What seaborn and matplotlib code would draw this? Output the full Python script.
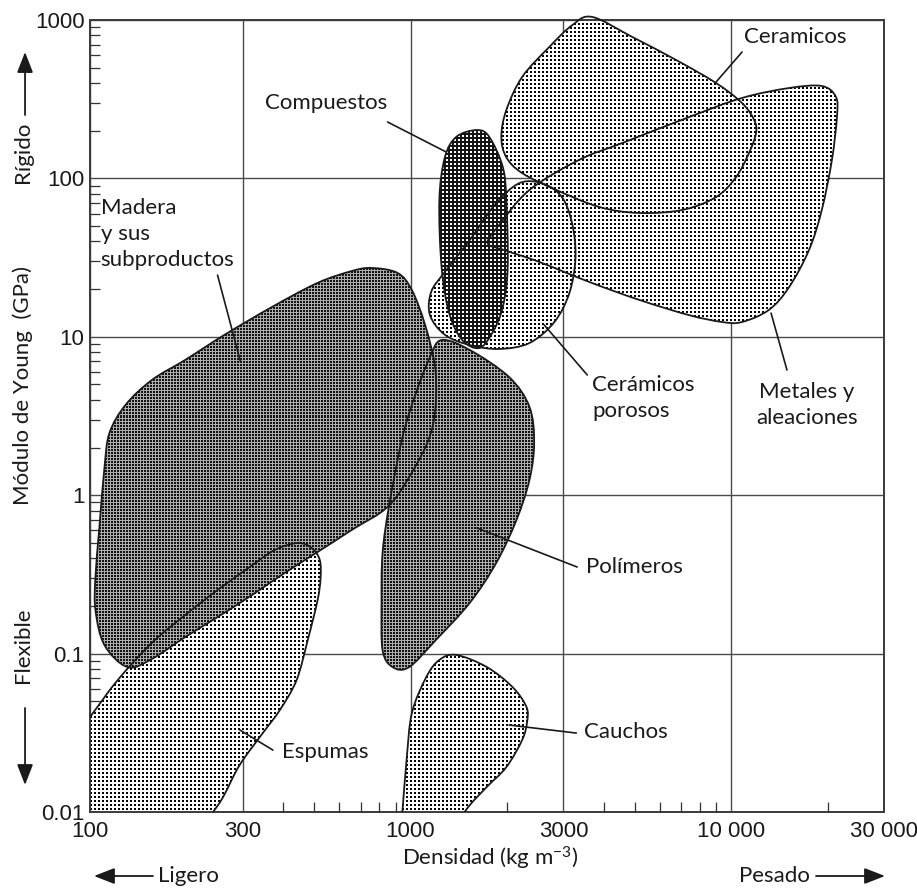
import numpy as np
import pandas as pd
import matplotlib
matplotlib.use("Agg")
import matplotlib.pyplot as plt
from matplotlib.path import Path
from matplotlib.patches import PathPatch
from matplotlib.image import AxesImage
from matplotlib.ticker import LogLocator, NullFormatter
import seaborn as sns

sns.set_style("white")
plt.rcParams['font.family'] = ['Lato', 'DejaVu Sans']
plt.rcParams['mathtext.fontset'] = 'custom'
plt.rcParams['mathtext.rm'] = 'Lato'
plt.rcParams['mathtext.default'] = 'regular'

# envelopes of each material family
# density in kg/m3, Young's modulus in GPa, going round each outline
ceramics_rho = [3690, 4920, 6740, 8980, 10820, 11800, 11970, 11380, 10370, 8980, 7040,
                5170, 3880, 2850, 2230, 1990, 1920, 1990, 2230, 2710, 3200]
ceramics_E = [1045, 781, 559, 400, 299, 234, 194, 145, 102, 76.3, 63.2,
              60.5, 66.0, 84.5, 108, 136, 183, 270, 437, 676, 930]

metals_rho = [1740, 1890, 2350, 3360, 4570, 7400, 10820, 15170, 19190, 21240, 21390, 20640,
              19190, 17500, 15170, 13130, 10820, 9380, 7400, 5170, 3610, 2520, 1960]
metals_E = [39.1, 50.8, 84.5, 131, 167, 244, 322, 372, 383, 327, 244, 131,
            63.2, 35.3, 20.6, 14.8, 12.4, 12.4, 13.7, 17.1, 22.2, 29.7, 35.3]

porous_rho = [2190, 2610, 2980, 3200, 3270, 3130, 2810, 2350, 1890, 1530, 1280, 1150,
              1160, 1280, 1530, 1830]
porous_E = [93.5, 92.2, 75.2, 50.8, 31.4, 18.9, 12.4, 9.14, 8.38, 8.87, 10.3, 13.7,
            19.2, 25.7, 40.8, 67.9]

composites_rho = [1610, 1760, 1940, 1990, 2010, 1940, 1800, 1640, 1450, 1320, 1250, 1230, 1280, 1390]
composites_E = [202, 183, 118, 73.1, 27.6, 15.4, 10.6, 8.5, 9.54, 14.1, 27.6, 73.1, 136, 183]

polymers_rho = [1250, 1530, 2030, 2350, 2430, 2350, 2140, 1850, 1530, 1200, 990, 879,
                818, 812, 818, 860, 944, 1040, 1150]
polymers_E = [9.54, 8.26, 5.57, 3.61, 2.14, 1.25, 0.697, 0.373, 0.209, 0.122, 0.0822, 0.0822,
              0.105, 0.209, 0.432, 0.893, 2.33, 4.42, 7.45]

wood_rho = [756, 911, 1010, 1110, 1190, 1200, 1160, 1050, 860, 655, 513, 405, 320, 250, 198,
            156, 131, 111, 104, 104, 107, 111, 115, 129, 156, 198, 263, 369, 513, 655]
wood_E = [27.2, 25.3, 19.7, 11.9, 6.64, 3.99, 2.51, 1.60, 0.867, 0.603, 0.438, 0.323, 0.234,
          0.170, 0.127, 0.0925, 0.0822, 0.113, 0.188, 0.305, 0.630, 1.51, 2.47, 3.71, 5.34,
          7.14, 10.3, 15.4, 21.9, 26.0]

foams_rho = [445, 492, 521, 524, 513, 478, 441, 391, 346, 293, 260, 236, 217, 75, 75,
             100, 122, 156, 198, 250, 315, 377]
foams_E = [0.499, 0.464, 0.390, 0.300, 0.218, 0.122, 0.068, 0.044, 0.0315, 0.0198, 0.0124,
           0.00916, 0.0062, 0.0062, 0.0184, 0.0398, 0.068, 0.117, 0.175, 0.252, 0.352, 0.451]

rubber_rho = [1390, 1730, 2080, 2300, 2310, 2230, 1990, 1730, 1490, 1320, 925, 944, 972,
              1010, 1120, 1230]
rubber_E = [0.098, 0.0822, 0.0615, 0.046, 0.037, 0.0285, 0.0192, 0.0144, 0.0103, 0.00665,
            0.00665, 0.0103, 0.0213, 0.0422, 0.0711, 0.0912]

# labels and their leader lines (start inside the blob, end near the text)
label_names = ['Ceramicos', 'Compuestos', 'Madera\ny sus\nsubproductos', 'Cerámicos\nporosos',
               'Metales y\naleaciones', 'Polímeros', 'Cauchos', 'Espumas']
leader_rho0 = [8980, 1290, 295, 2610, 13330, 1610, 2030, 293]
leader_E0 = [406, 147, 6.93, 11.9, 14.1, 0.621, 0.0354, 0.033]
leader_rho1 = [10820, 848, 250, 3560, 14940, 3310, 3290, 372]
leader_E1 = [628, 227, 24.5, 5.74, 6.17, 0.352, 0.0315, 0.0246]

x_ticks = [100, 300, 1000, 3000, 10000, 30000]
x_ticklabels = ['100', '300', '1000', '3000', '10 000', '30 000']
y_ticks = [0.01, 0.1, 1, 10, 100, 1000]
y_ticklabels = ['0.01', '0.1', '1', '10', '100', '1000']


def smooth_outline(rho, E):
    # closed catmull-rom through the outline points, done in log space
    p = np.column_stack([np.log10(rho), np.log10(E)])
    n = len(p)
    verts = [p[0]]
    codes = [Path.MOVETO]
    for i in range(n):
        p0, p1, p2, p3 = p[i - 1], p[i], p[(i + 1) % n], p[(i + 2) % n]
        verts += [p1 + (p2 - p0) / 6, p2 - (p3 - p1) / 6, p2]
        codes += [Path.CURVE4] * 3
    verts.append(p[0])
    codes.append(Path.CLOSEPOLY)
    return Path(10 ** np.array(verts), codes)


# halftone screens, one pixel of array per pixel of the axes
W, H = 794, 792
yy, xx = np.mgrid[0:H, 0:W]


def screen(pitch, dot, ink, paper):
    m = (xx % pitch < dot) & (yy % pitch < dot)
    g = np.where(m, ink, paper)
    return np.dstack([g, g, g])


sparse = screen(4, 2, 0.0, 1.0)
checker = screen(3, 2, 0.08, 0.68)
dark = screen(4, 2, 1.0, 0.08)

fig = plt.figure(figsize=(9.17, 8.88), dpi=100)
ax = fig.add_axes([90 / 917, 76 / 888, 794 / 917, 792 / 888])
ax.set_xscale('log')
ax.set_yscale('log')

blobs = [
    (foams_rho, foams_E, sparse, True),
    (wood_rho, wood_E, checker, True),
    (polymers_rho, polymers_E, checker, True),
    (rubber_rho, rubber_E, sparse, True),
    (porous_rho, porous_E, sparse, True),
    (metals_rho, metals_E, sparse, True),
    (ceramics_rho, ceramics_E, sparse, False),
    (composites_rho, composites_E, dark, True),
]
for i, (rho, E, tex, clip) in enumerate(blobs):
    outline = PathPatch(smooth_outline(rho, E), facecolor='none', edgecolor='#1a1a1a',
                        linewidth=1.3, zorder=3, clip_on=clip)
    ax.add_patch(outline)
    im = AxesImage(ax, interpolation='nearest', extent=(0, 1, 0, 1),
                   transform=ax.transAxes, zorder=2 + i * 0.01)
    im.set_data(tex)
    ax.add_image(im)
    im.set_clip_path(outline)

leaders = pd.DataFrame({
    'rho': leader_rho0 + leader_rho1,
    'E': leader_E0 + leader_E1,
    'name': label_names + label_names,
})
sns.lineplot(data=leaders, x='rho', y='E', units='name', estimator=None, sort=False,
             color='#1a1a1a', linewidth=1.2, ax=ax, zorder=5)

txt = dict(fontsize=16, color='#1a1a1a', va='center', zorder=6)
ax.text(10970, 781, label_names[0], ha='left', **txt)
ax.text(547, 299, label_names[1], ha='center', **txt)
ax.text(108, 44.6, label_names[2], ha='left', linespacing=1.4, **txt)
ax.text(3690, 4.11, label_names[3], ha='left', linespacing=1.35, **txt)
ax.text(17260, 3.71, label_names[4], ha='center', multialignment='center', linespacing=1.4, **txt)
ax.text(3530, 0.352, label_names[5], ha='left', **txt)
ax.text(3480, 0.032, label_names[6], ha='left', **txt)
ax.text(396, 0.0239, label_names[7], ha='left', **txt)

ax.set_xlim(100, 30000)
ax.set_ylim(0.01, 1000)
ax.set_xticks(x_ticks, labels=x_ticklabels, fontfamily='Liberation Sans')
ax.set_yticks(y_ticks, labels=y_ticklabels, fontfamily='Liberation Sans')
for axis in (ax.xaxis, ax.yaxis):
    axis.set_minor_locator(LogLocator(base=10, subs=np.arange(2, 10)))
    axis.set_minor_formatter(NullFormatter())
ax.tick_params(which='major', length=0, labelsize=16, colors='#1a1a1a')
ax.tick_params(axis='x', which='major', pad=6.5)
ax.tick_params(axis='y', which='major', pad=4)
ax.tick_params(which='minor', direction='in', length=7, width=0.9, color='#333333',
               left=True, bottom=True, right=False, top=False)
ax.set_xlabel('')
ax.set_ylabel('')
ax.grid(True, which='major', color='#4a4a4a', linewidth=1.0)
ax.set_axisbelow(True)
for s in ax.spines.values():
    s.set_color('#3a3a3a')
    s.set_linewidth(1.4)

# axis titles and the direction arrows outside the frame
side = dict(fontsize=16, color='#1a1a1a', ha='center', va='center')
fig.text(0.0251, 0.8288, 'Rígido', rotation=90, **side)
fig.text(0.0251, 0.5664, 'Módulo de Young  (GPa)', rotation=90, **side)
fig.text(0.0251, 0.2736, 'Flexible', rotation=90, **side)
fig.text(0.5344, 0.0338, 'Densidad (kg m$^{-3}$)', **side)
fig.text(0.1723, 0.0135, 'Ligero', fontsize=16, color='#1a1a1a', ha='left', va='center')
fig.text(0.8833, 0.0135, 'Pesado', fontsize=16, color='#1a1a1a', ha='right', va='center')

arrow = dict(arrowstyle='-|>,head_length=0.9,head_width=0.35', color='#1a1a1a', lw=1.3,
             mutation_scale=14, shrinkA=0, shrinkB=0)
for start, end in [((0.0273, 0.8705), (0.0273, 0.9414)),
                   ((0.0273, 0.2027), (0.0273, 0.1160)),
                   ((0.1668, 0.0135), (0.1025, 0.0135)),
                   ((0.8899, 0.0135), (0.9651, 0.0135))]:
    ax.annotate('', xy=end, xytext=start, xycoords='figure fraction',
                textcoords='figure fraction', arrowprops=arrow, annotation_clip=False)

fig.savefig('out.png', dpi=100)
